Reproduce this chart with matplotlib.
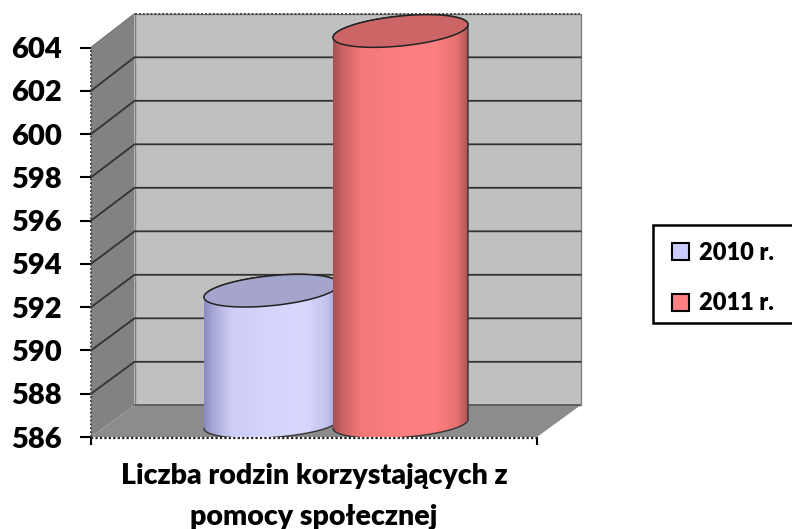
import matplotlib
matplotlib.use('Agg')
import matplotlib.pyplot as plt
import numpy as np
from matplotlib.patches import Patch, PathPatch, Polygon, Rectangle
from matplotlib.path import Path

plt.rcParams['font.family'] = ['Lato', 'DejaVu Sans']
plt.rcParams['font.weight'] = 'heavy'

# Data
years = ['2010 r.', '2011 r.']
values = [592, 604]
tick_values = [586, 588, 590, 592, 594, 596, 598, 600, 602, 604]
title_lines = ['Liczba rodzin korzystających z', 'pomocy społecznej']
bar_centers = [271.5, 400.5]

W, H = 792, 529
Y_BASE, Y_TOP = 437, 47.5
PX = (Y_BASE - Y_TOP) / 18

fig = plt.figure(figsize=(W / 100, H / 100), dpi=100)
fig.patch.set_facecolor('white')
ax = fig.add_axes([91 / W, (H - Y_BASE) / H, (600 - 91) / W, Y_BASE / H])
ax.set_xlim(91, 600)
ax.set_ylim(586, 586 + Y_BASE / PX)
for s in ax.spines.values():
    s.set_visible(False)

# 3D box
dx = 43.5
def back(v):
    # y value of the back wall line for value v
    return 586 + 31.7 / PX + (v - 586) * 392 / 390

x0, x1 = 91, 537
ax.add_patch(Polygon([(x0 + dx, back(586)), (x1 + dx + .5, back(586)),
                      (x1 + dx + .5, back(604)), (x0 + dx, back(604))],
                     fc='#c0c0c0', ec='#808080', lw=1, zorder=1))
ax.add_patch(Polygon([(x0, 586), (x0 + dx, back(586)), (x0 + dx, back(604)), (x0, 604)],
                     fc='#828282', ec='none', zorder=1))
ax.add_patch(Polygon([(x0, 586), (x1, 586), (x1 + dx, back(586)), (x0 + dx, back(586))],
                     fc='#8c8c8c', ec='none', zorder=1))
for v in tick_values[1:-1]:
    ax.plot([x0, x0 + dx, x1 + dx], [v, back(v), back(v)], color='#333333', lw=1.3, zorder=2)
ax.plot([x0 + dx, x1 + dx], [back(586)] * 2, color='#5c5c5c', lw=1.3, zorder=2)
ax.plot([x0, x0 + dx], [604, back(604)], color='#777777', lw=1, zorder=2)
ax.plot([x0 + dx, x1 + dx], [back(604)] * 2, color='#444444', lw=1.4, ls=(0, (1, 1)), zorder=2)
ax.plot([x0, x0], [586, 604], color='#444444', lw=1.4, ls=(0, (1, 1)), zorder=2, clip_on=False)
ax.plot([x0, x1], [585.95, 585.95], color='#222222', lw=1.6, ls=(0, (1, 1)), zorder=2, clip_on=False)

# Cylinders
A = 67.5
T_A, T_K = 15 / PX, 6.5 / PX
B_A = 13.5 / PX
B_K = 4.5 / PX
BASE_LIFT = 13 / PX
TOP_LIFT = 16.5 / PX
t = np.linspace(0, 2 * np.pi, 181)

def ell(cx, cy, b, k):
    return cx + A * np.cos(t), cy + b * np.sin(t) + k * np.cos(t)

def cylinder(cx, val, c_dark, c_mid, c_top, z):
    ty = val + TOP_LIFT
    by = 586 + BASE_LIFT
    xt, yt = ell(cx, ty, T_A, T_K)
    xb, yb = ell(cx, by, B_A, B_K)
    lower = (t >= np.pi)
    xs = np.r_[cx - A, xb[lower], cx + A, xt[:91], cx - A]
    ys = np.r_[by - B_K, yb[lower], by + B_K, yt[:91], ty - T_K]
    body = PathPatch(Path(np.c_[xs, ys]), fc='none', ec='none')
    ax.add_patch(body)
    pos = [0, .06, .2, .45, .75, .92, 1]
    mix = [0, .35, .85, .95, 1, .7, .1]
    u = np.linspace(0, 1, 200)
    m = np.interp(u, pos, mix)[None, :, None]
    d, c = np.array(matplotlib.colors.to_rgb(c_dark)), np.array(matplotlib.colors.to_rgb(c_mid))
    img = d + (c - d) * m
    im = ax.imshow(img, extent=[cx - A, cx + A, 585, 606.5], aspect='auto', zorder=z, interpolation='bilinear')
    im.set_clip_path(body)
    ax.plot(xs, ys, color='#333333', lw=1, zorder=z + .1)
    ax.fill(xt, yt, fc=c_top, ec='#222222', lw=1.1, zorder=z + .2)

cylinder(bar_centers[0], values[0], '#8a8ac0', '#d8d8ff', '#a4a4cc', 3)
cylinder(bar_centers[1], values[1], '#a85050', '#ff8080', '#cc6666', 4)

ax.set_xlim(91, 600)
ax.set_ylim(586, 586 + Y_BASE / PX)

# Axes ticks
ax.set_yticks(tick_values)
ax.set_xticks([x0, x1])
ax.set_xticklabels([])
ax.tick_params(axis='y', length=8, width=1.5, pad=13, labelsize=21, color='black')
ax.tick_params(axis='x', length=6, width=1.5, color='black')
ax.set_facecolor('none')

# Category text
fig.text(314 / W, 1 - 476 / H, title_lines[0], ha='center', va='center', fontsize=20.5, color='black')
fig.text(314 / W, 1 - 517 / H, title_lines[1], ha='center', va='center', fontsize=20.5, color='black')

# Legend
fig.add_artist(Rectangle((653 / W, 1 - 323 / H), 145 / W, 98 / H, transform=fig.transFigure,
                         fc='white', ec='black', lw=1.8))
handles = [Patch(fc='#ccccff', ec='black', lw=1.5, label=years[0]),
           Patch(fc='#ff8080', ec='black', lw=1.5, label=years[1])]
leg = fig.legend(handles=handles, loc='upper left',
                 bbox_to_anchor=(652 / W, 1 - 222 / H),
                 bbox_transform=fig.transFigure, frameon=False, fontsize=17,
                 handlelength=.72, handleheight=.72, handletextpad=.4,
                 labelspacing=1.2, borderpad=.85, borderaxespad=0)

fig.savefig('out.png', dpi=100)
